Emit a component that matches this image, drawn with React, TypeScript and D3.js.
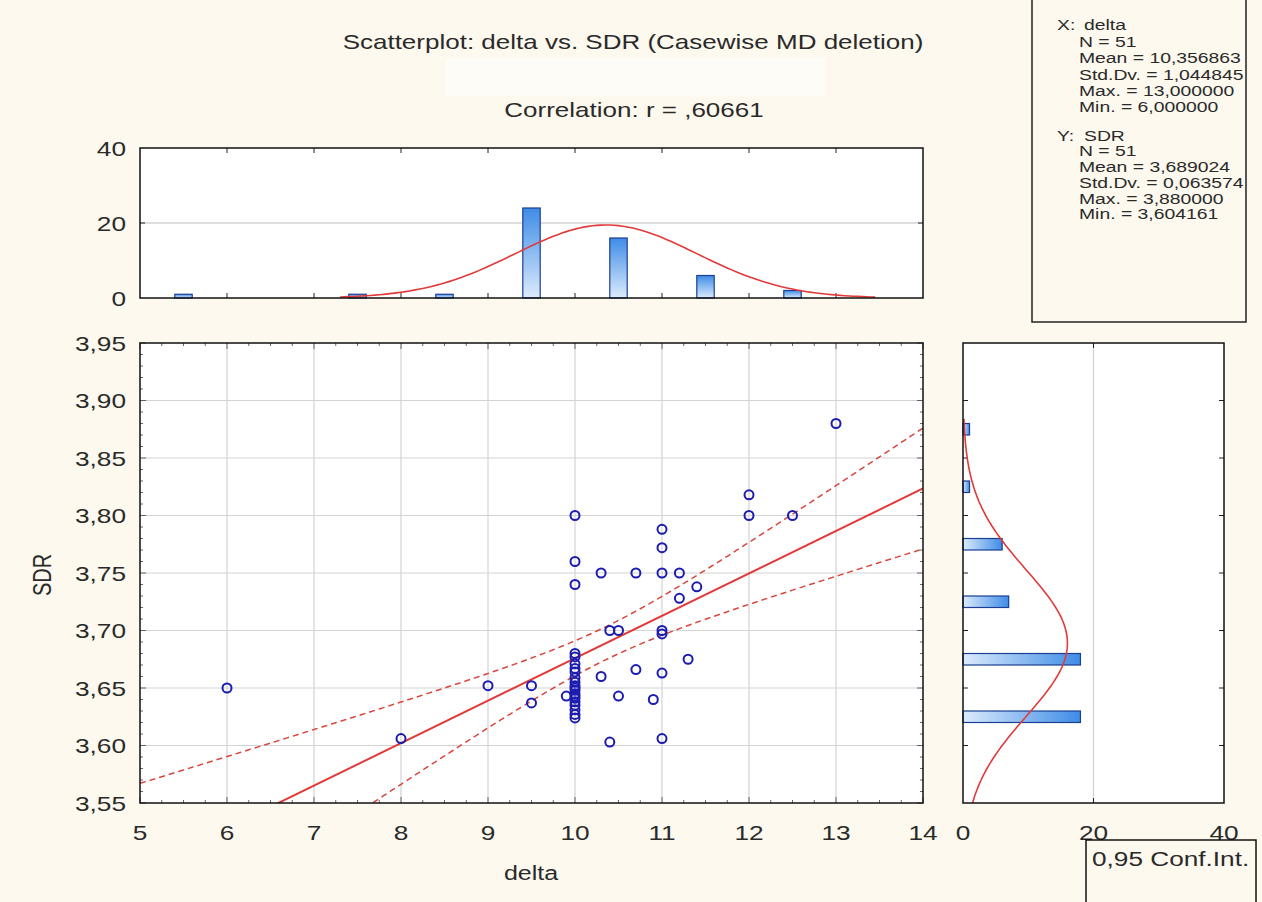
import React from "react";
import * as d3 from "d3";

// ---------------- data ----------------
const deltaValues = [
  6, 8, 9, 9.5, 9.5, 9.9, 10.3, 10.7, 11, 11.2, 11.4, 11.2, 11, 11, 10.4, 10.5, 11, 11, 11.3, 10.7,
  10.3, 11, 10.5, 10.9, 10.4, 11, 12, 12, 12.5, 13,
  10, 10, 10, 10, 10, 10, 10, 10, 10, 10, 10, 10, 10, 10, 10, 10, 10, 10, 10, 10, 10,
];
const sdrValues = [
  3.65, 3.606, 3.652, 3.652, 3.637, 3.643, 3.75, 3.75, 3.75, 3.75, 3.738, 3.728, 3.788, 3.772, 3.7,
  3.7, 3.7, 3.697, 3.675, 3.666, 3.66, 3.663, 3.643, 3.64, 3.603, 3.606, 3.818, 3.8, 3.8, 3.88,
  3.8, 3.76, 3.74, 3.68, 3.677, 3.671, 3.667, 3.664, 3.659, 3.655, 3.652, 3.65, 3.648, 3.645,
  3.643, 3.641, 3.638, 3.635, 3.631, 3.627, 3.624,
];

// histogram of delta (bin centres, counts)
const deltaBinCenters = [5.5, 6.5, 7.5, 8.5, 9.5, 10.5, 11.5, 12.5, 13.5];
const deltaBinCounts = [1, 0, 1, 1, 24, 16, 6, 2, 0];
// histogram of SDR
const sdrBinCenters = [3.575, 3.625, 3.675, 3.725, 3.775, 3.825, 3.875];
const sdrBinCounts = [0, 18, 18, 7, 6, 1, 1];

// descriptive statistics shown on the chart
const statN = 51;
const deltaMean = 10.356863;
const deltaSd = 1.044845;
const sdrMean = 3.689024;
const sdrSd = 0.063574;
const corrR = 0.60661;
const tCrit = 2.0096; // t(0.975, 49)

const xTicks = [5, 6, 7, 8, 9, 10, 11, 12, 13, 14];
const yTicks = [3.55, 3.6, 3.65, 3.7, 3.75, 3.8, 3.85, 3.9, 3.95];
const yTickLabels = ["3,55", "3,60", "3,65", "3,70", "3,75", "3,80", "3,85", "3,90", "3,95"];
const histTicks = [0, 20, 40];

const titleText = "Scatterplot: delta vs. SDR (Casewise MD deletion)";
const corrText = "Correlation: r = ,60661";
const statsX = ["N = 51", "Mean = 10,356863", "Std.Dv. = 1,044845", "Max. = 13,000000", "Min. = 6,000000"];
const statsY = ["N = 51", "Mean = 3,689024", "Std.Dv. = 0,063574", "Max. = 3,880000", "Min. = 3,604161"];

// ---------------- layout ----------------
const W = 1262;
const H = 902;
const M = { left: 140, right: 923, top: 343, bottom: 803 };
const TH = { top: 148, bottom: 298 };
const RH = { left: 963, right: 1224 };
const FONT = "'Liberation Sans', Arial, sans-serif";
const BG = "#fdf9ee";
const GRID = "#d3d3d3";
const RED = "#e23a3a";
const TICK_SIZE = 21;
const TICK_SX = 1.25;

function Txt(props: {
  x: number;
  y: number;
  text: string;
  size?: number;
  anchor?: string;
  sx?: number;
  fill?: string;
  rotate?: number;
}) {
  const { x, y, text, size = TICK_SIZE, anchor = "middle", sx = TICK_SX, fill = "#2a2a2a", rotate = 0 } = props;
  const tr = rotate
    ? `translate(${x},${y}) rotate(${rotate}) scale(1,${sx})`
    : `translate(${x},${y}) scale(${sx},1)`;
  return (
    <text
      transform={tr}
      fontFamily={FONT}
      fontSize={size}
      textAnchor={anchor as any}
      dominantBaseline="central"
      fill={fill}
    >
      {text}
    </text>
  );
}

export default function App() {
  const x = d3.scaleLinear().domain([5, 14]).range([M.left, M.right]);
  const y = d3.scaleLinear().domain([3.55, 3.95]).range([M.bottom, M.top]);
  const ty = d3.scaleLinear().domain([0, 40]).range([TH.bottom, TH.top]);
  const rx = d3.scaleLinear().domain([0, 40]).range([RH.left, RH.right]);

  // regression from displayed statistics
  const slope = (corrR * sdrSd) / deltaSd;
  const intercept = sdrMean - slope * deltaMean;
  const se = sdrSd * Math.sqrt(1 - corrR * corrR) * Math.sqrt((statN - 1) / (statN - 2));
  const sxx = (statN - 1) * deltaSd * deltaSd;
  const xs = d3.range(5, 14.001, 0.05);
  const fit = (v: number) => intercept + slope * v;
  const half = (v: number) =>
    tCrit * se * Math.sqrt(1 / statN + ((v - deltaMean) * (v - deltaMean)) / sxx);
  const line = d3
    .line<[number, number]>()
    .x((d) => x(d[0]))
    .y((d) => y(d[1]));
  const fitPath = line([
    [5, fit(5)],
    [14, fit(14)],
  ]);
  const upPath = line(xs.map((v) => [v, fit(v) + half(v)] as [number, number]));
  const loPath = line(xs.map((v) => [v, fit(v) - half(v)] as [number, number]));

  // normal curves
  const normX = (v: number) =>
    ((statN * 1) / (deltaSd * Math.sqrt(2 * Math.PI))) *
    Math.exp(-0.5 * ((v - deltaMean) / deltaSd) ** 2);
  const normY = (v: number) =>
    ((statN * 0.05) / (sdrSd * Math.sqrt(2 * Math.PI))) *
    Math.exp(-0.5 * ((v - sdrMean) / sdrSd) ** 2);
  const topCurve = d3
    .line<number>()
    .x((v) => x(v))
    .y((v) => ty(normX(v)))(d3.range(7.3, 13.46, 0.05));
  const rightCurve = d3
    .line<number>()
    .x((v) => rx(normY(v)))
    .y((v) => y(v))(d3.range(3.55, 3.8855, 0.002));

  const points = deltaValues.map((d, i) => [d, sdrValues[i]] as [number, number]);

  const minorY = d3.range(3.55, 3.9501, 0.01);
  const minorX = d3.range(5, 14.001, 0.25);
  const bw = 0.2; // bar width in delta units
  const bh = 0.01; // bar height in SDR units

  return (
    <svg
      width={W}
      height={H}
      viewBox={`0 0 ${W} ${H}`}
      style={{ position: "absolute", left: 0, top: 0, display: "block" }}
    >
      <defs>
        <linearGradient id="gTop" x1="0" y1="0" x2="0" y2="1">
          <stop offset="0" stopColor="#3f8ce6" />
          <stop offset="1" stopColor="#dcebfc" />
        </linearGradient>
        <linearGradient id="gRight" x1="0" y1="0" x2="1" y2="0">
          <stop offset="0" stopColor="#dcebfc" />
          <stop offset="1" stopColor="#3f8ce6" />
        </linearGradient>
        <clipPath id="cMain">
          <rect x={M.left} y={M.top} width={M.right - M.left} height={M.bottom - M.top} />
        </clipPath>
        <clipPath id="cRight">
          <rect x={RH.left} y={M.top} width={RH.right - RH.left} height={M.bottom - M.top} />
        </clipPath>
      </defs>
      <rect x={0} y={0} width={W} height={H} fill={BG} />
      <rect x={445} y={58} width={380} height={38} fill="#ffffff" opacity={0.45} />

      {/* titles */}
      <Txt x={633} y={42} text={titleText} size={20} sx={1.3} />
      <Txt x={634} y={110} text={corrText} size={20} sx={1.3} />

      {/* ---------- top histogram ---------- */}
      <rect x={M.left} y={TH.top} width={M.right - M.left} height={TH.bottom - TH.top} fill="#fff" />
      <line x1={M.left} x2={M.right} y1={ty(20)} y2={ty(20)} stroke={GRID} strokeWidth={1.3} />
      {d3.range(6, 14).map((v) => (
        <g key={"tt" + v}>
          <line x1={x(v)} x2={x(v)} y1={TH.top} y2={TH.top + 5} stroke="#222" />
          <line x1={x(v)} x2={x(v)} y1={TH.bottom} y2={TH.bottom - 5} stroke="#222" />
        </g>
      ))}
      <line x1={M.right} x2={M.right - 5} y1={ty(20)} y2={ty(20)} stroke="#222" />
      <line x1={M.left} x2={M.left + 5} y1={ty(20)} y2={ty(20)} stroke="#222" />
      {deltaBinCenters.map((c, i) =>
        deltaBinCounts[i] > 0 ? (
          <rect
            key={"tb" + i}
            x={x(c - bw / 2)}
            y={ty(deltaBinCounts[i])}
            width={x(c + bw / 2) - x(c - bw / 2)}
            height={ty(0) - ty(deltaBinCounts[i])}
            fill="url(#gTop)"
            stroke="#1a3f94"
            strokeWidth={1.2}
          />
        ) : null
      )}
      <path d={topCurve || ""} fill="none" stroke={RED} strokeWidth={1.6} />
      <rect
        x={M.left}
        y={TH.top}
        width={M.right - M.left}
        height={TH.bottom - TH.top}
        fill="none"
        stroke="#111"
        strokeWidth={1.5}
      />
      {histTicks.map((v) => (
        <Txt key={"thl" + v} x={126} y={ty(v)} text={String(v)} anchor="end" />
      ))}

      {/* ---------- main scatter ---------- */}
      <rect x={M.left} y={M.top} width={M.right - M.left} height={M.bottom - M.top} fill="#fff" />
      {xTicks.slice(1, -1).map((v) => (
        <line key={"gx" + v} x1={x(v)} x2={x(v)} y1={M.top} y2={M.bottom} stroke={GRID} strokeWidth={1.2} />
      ))}
      {yTicks.slice(1, -1).map((v) => (
        <line key={"gy" + v} x1={M.left} x2={M.right} y1={y(v)} y2={y(v)} stroke={GRID} strokeWidth={1.2} />
      ))}
      {minorY.map((v, i) => (
        <g key={"my" + i}>
          <line x1={M.left} x2={M.left + (i % 5 === 0 ? 6 : 3)} y1={y(v)} y2={y(v)} stroke="#444" strokeWidth={0.8} />
          <line x1={M.right} x2={M.right - (i % 5 === 0 ? 6 : 3)} y1={y(v)} y2={y(v)} stroke="#444" strokeWidth={0.8} />
        </g>
      ))}
      {minorX.map((v, i) => (
        <g key={"mx" + i}>
          <line x1={x(v)} x2={x(v)} y1={M.bottom} y2={M.bottom - (i % 4 === 0 ? 6 : 3)} stroke="#444" strokeWidth={0.8} />
          <line x1={x(v)} x2={x(v)} y1={M.top} y2={M.top + (i % 4 === 0 ? 6 : 3)} stroke="#444" strokeWidth={0.8} />
        </g>
      ))}
      <g clipPath="url(#cMain)">
        <path d={upPath || ""} fill="none" stroke="#d9473f" strokeWidth={1.5} strokeDasharray="6,4" />
        <path d={loPath || ""} fill="none" stroke="#d9473f" strokeWidth={1.5} strokeDasharray="6,4" />
        <path d={fitPath || ""} fill="none" stroke={RED} strokeWidth={2} />
        {points.map((p, i) => (
          <circle
            key={"p" + i}
            cx={x(p[0])}
            cy={y(p[1])}
            r={4.5}
            fill="none"
            stroke="#1c1cb0"
            strokeWidth={2}
          />
        ))}
      </g>
      <rect
        x={M.left}
        y={M.top}
        width={M.right - M.left}
        height={M.bottom - M.top}
        fill="none"
        stroke="#111"
        strokeWidth={1.5}
      />
      {xTicks.map((v) => (
        <Txt key={"xl" + v} x={x(v)} y={832} text={String(v)} />
      ))}
      {yTicks.map((v, i) => (
        <Txt key={"yl" + v} x={126} y={y(v)} text={yTickLabels[i]} anchor="end" />
      ))}
      <Txt x={531} y={873} text="delta" size={20} />
      <Txt x={43} y={575} text="SDR" rotate={-90} size={20} />

      {/* ---------- right histogram ---------- */}
      <rect x={RH.left} y={M.top} width={RH.right - RH.left} height={M.bottom - M.top} fill="#fff" />
      <line x1={rx(20)} x2={rx(20)} y1={M.top} y2={M.bottom} stroke={GRID} strokeWidth={1.3} />
      {yTicks.slice(1, -1).map((v) => (
        <g key={"rt" + v}>
          <line x1={RH.left} x2={RH.left + 5} y1={y(v)} y2={y(v)} stroke="#222" />
          <line x1={RH.right} x2={RH.right - 5} y1={y(v)} y2={y(v)} stroke="#222" />
        </g>
      ))}
      <line x1={rx(20)} x2={rx(20)} y1={M.bottom} y2={M.bottom - 5} stroke="#222" />
      <line x1={rx(20)} x2={rx(20)} y1={M.top} y2={M.top + 5} stroke="#222" />
      {sdrBinCenters.map((c, i) =>
        sdrBinCounts[i] > 0 ? (
          <rect
            key={"rb" + i}
            x={rx(0)}
            y={y(c + bh / 2)}
            width={rx(sdrBinCounts[i]) - rx(0)}
            height={y(c - bh / 2) - y(c + bh / 2)}
            fill="url(#gRight)"
            stroke="#1a3f94"
            strokeWidth={1.2}
          />
        ) : null
      )}
      <g clipPath="url(#cRight)">
        <path d={rightCurve || ""} fill="none" stroke={RED} strokeWidth={1.6} />
      </g>
      <rect
        x={RH.left}
        y={M.top}
        width={RH.right - RH.left}
        height={M.bottom - M.top}
        fill="none"
        stroke="#111"
        strokeWidth={1.5}
      />
      {histTicks.map((v) => (
        <Txt key={"rhl" + v} x={rx(v)} y={832} text={String(v)} />
      ))}

      {/* ---------- stats box ---------- */}
      <rect x={1032} y={-2} width={214} height={324} fill={BG} stroke="#222" strokeWidth={1.5} />
      <Txt x={1057} y={25} text="X:" size={15} sx={1.29} anchor="start" />
      <Txt x={1084} y={25} text="delta" size={15} sx={1.29} anchor="start" />
      {statsX.map((s, i) => (
        <Txt key={"sx" + i} x={1079} y={42 + i * 16.3} text={s} size={15} sx={1.29} anchor="start" />
      ))}
      <Txt x={1057} y={136} text="Y:" size={15} sx={1.29} anchor="start" />
      <Txt x={1084} y={136} text="SDR" size={15} sx={1.29} anchor="start" />
      {statsY.map((s, i) => (
        <Txt key={"sy" + i} x={1079} y={151 + i * 15.8} text={s} size={15} sx={1.29} anchor="start" />
      ))}

      {/* ---------- legend ---------- */}
      <rect x={1086} y={840} width={170} height={80} fill={BG} stroke="#111" strokeWidth={1.5} />
      <Txt x={1092} y={859} text="0,95 Conf.Int." size={20} sx={1.31} anchor="start" />
    </svg>
  );
}
